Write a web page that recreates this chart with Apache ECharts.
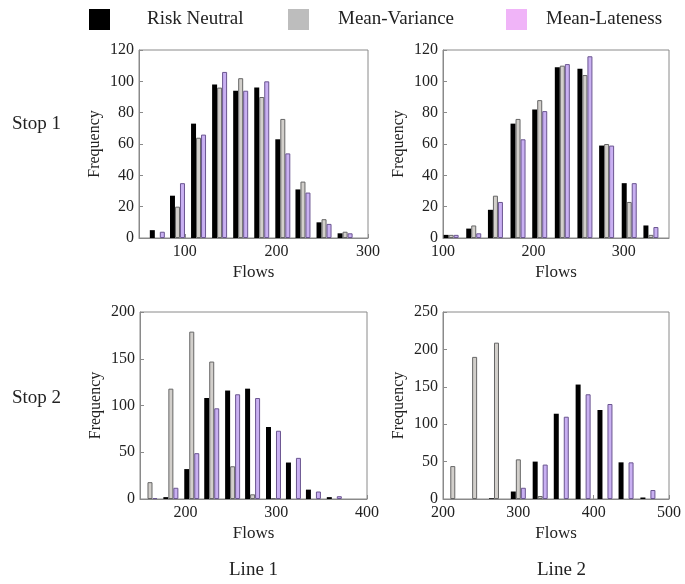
<!DOCTYPE html>
<html><head><meta charset="utf-8">
<script src="https://cdn.jsdelivr.net/npm/echarts@6/dist/echarts.min.js"></script>
<style>html,body{margin:0;padding:0;background:#fff}#c{width:685px;height:584px}</style>
</head><body><div id="c"></div>
<script>
const seriesNames = ['Risk Neutral', 'Mean-Variance', 'Mean-Lateness'];

// Bin centers (Flows) per panel
const bins1 = [70, 92, 115, 138, 161, 184, 207, 229, 252, 275];   // Stop 1, Line 1
const bins2 = [109, 134, 158, 183, 207, 232, 257, 281, 306, 330]; // Stop 1, Line 2
const bins3 = [161, 184, 207, 229, 252, 274, 297, 319, 341, 364]; // Stop 2, Line 1
const bins4 = [213, 242, 271, 300, 329, 357, 386, 415, 443, 472]; // Stop 2, Line 2

// Frequencies
const p1RiskNeutral  = [5, 27, 73, 98, 94, 96, 63, 31, 10, 3];
const p1MeanVariance = [0, 20, 64, 96, 102, 90, 76, 36, 12, 4];
const p1MeanLateness = [4, 35, 66, 106, 94, 100, 54, 29, 9, 3];

const p2RiskNeutral  = [2, 6, 18, 73, 82, 109, 108, 59, 35, 8];
const p2MeanVariance = [2, 8, 27, 76, 88, 110, 104, 60, 23, 2];
const p2MeanLateness = [2, 3, 23, 63, 81, 111, 116, 59, 35, 7];

const p3RiskNeutral  = [0, 2, 32, 108, 116, 118, 77, 39, 10, 2];
const p3MeanVariance = [18, 118, 179, 147, 35, 5, 1, 0, 0, 0];
const p3MeanLateness = [1, 12, 49, 97, 112, 108, 73, 44, 8, 3];

const p4RiskNeutral  = [0, 0, 1, 10, 50, 114, 153, 119, 49, 2];
const p4MeanVariance = [44, 190, 209, 53, 4, 0, 0, 0, 0, 0];
const p4MeanLateness = [0, 0, 0, 15, 46, 110, 140, 127, 49, 12];

// Axis ranges & tick labels
const xRange1 = [50, 300],  xTicks1 = [100, 200, 300];
const xRange2 = [100, 350], xTicks2 = [100, 200, 300];
const xRange3 = [150, 400], xTicks3 = [200, 300, 400];
const xRange4 = [200, 500], xTicks4 = [200, 300, 400, 500];
const yRange1 = [0, 120], yStep1 = 20;
const yRange2 = [0, 120], yStep2 = 20;
const yRange3 = [0, 200], yStep3 = 50;
const yRange4 = [0, 250], yStep4 = 50;

const rowLabels = ['Stop 1', 'Stop 2'];
const colLabels = ['Line 1', 'Line 2'];
const xName = 'Flows', yName = 'Frequency';

const panels = [
  {bins: bins1, vals: [p1RiskNeutral, p1MeanVariance, p1MeanLateness], xr: xRange1, xt: xTicks1, yr: yRange1, ys: yStep1},
  {bins: bins2, vals: [p2RiskNeutral, p2MeanVariance, p2MeanLateness], xr: xRange2, xt: xTicks2, yr: yRange2, ys: yStep2},
  {bins: bins3, vals: [p3RiskNeutral, p3MeanVariance, p3MeanLateness], xr: xRange3, xt: xTicks3, yr: yRange3, ys: yStep3},
  {bins: bins4, vals: [p4RiskNeutral, p4MeanVariance, p4MeanLateness], xr: xRange4, xt: xTicks4, yr: yRange4, ys: yStep4}
];

const FONT = 'Liberation Serif';
const grids = [
  {left: 139, top: 50, width: 229, height: 188},
  {left: 443, top: 50, width: 226, height: 188},
  {left: 140, top: 312, width: 227, height: 187},
  {left: 443, top: 312, width: 226, height: 187}
];
const barStyles = [
  {color: '#000000', borderColor: '#000000', borderWidth: 0},
  {color: '#d2cfcb', borderColor: '#666666', borderWidth: 1},
  {color: '#c9b0f2', borderColor: '#6a5590', borderWidth: 1}
];
const axisCol = '#8a8a8a';

const option = {
  animation: false,
  backgroundColor: '#fff',
  grid: grids.map(g => Object.assign({show: true, borderColor: axisCol, borderWidth: 1, backgroundColor: 'transparent'}, g)),
  xAxis: panels.map((p, i) => ({
    type: 'value', gridIndex: i, min: p.xr[0], max: p.xr[1],
    name: xName, nameLocation: 'middle', nameGap: 26,
    nameTextStyle: {fontFamily: FONT, fontSize: 17, color: '#222'},
    axisLine: {show: true, lineStyle: {color: axisCol}},
    axisTick: {show: true, inside: true, length: 4, customValues: p.xt, lineStyle: {color: axisCol}},
    axisLabel: {customValues: p.xt, fontFamily: FONT, fontSize: 16, color: '#222', margin: 6},
    splitLine: {show: false}
  })),
  yAxis: panels.map((p, i) => ({
    type: 'value', gridIndex: i, min: p.yr[0], max: p.yr[1], interval: p.ys,
    name: yName, nameLocation: 'middle', nameGap: 36,
    nameTextStyle: {fontFamily: FONT, fontSize: 16, color: '#222'},
    axisLine: {show: true, lineStyle: {color: axisCol}},
    axisTick: {show: true, inside: true, length: 4, lineStyle: {color: axisCol}},
    axisLabel: {fontFamily: FONT, fontSize: 16, color: '#222', margin: 5},
    splitLine: {show: false}
  })),
  legend: [
    {left: 89, top: 9, padding: 0, itemWidth: 21, itemHeight: 21, selectedMode: false, icon: 'rect',
     data: [{name: seriesNames[0], itemStyle: {color: '#000000', borderWidth: 0}}],
     textStyle: {fontFamily: FONT, fontSize: 19, color: '#222', padding: [0, 0, 0, 32]}},
    {left: 288, top: 9, padding: 0, itemWidth: 21, itemHeight: 21, selectedMode: false, icon: 'rect',
     data: [{name: seriesNames[1], itemStyle: {color: '#bdbdbd', borderWidth: 0}}],
     textStyle: {fontFamily: FONT, fontSize: 19, color: '#222', padding: [0, 0, 0, 24]}},
    {left: 506, top: 9, padding: 0, itemWidth: 21, itemHeight: 21, selectedMode: false, icon: 'rect',
     data: [{name: seriesNames[2], itemStyle: {color: '#f0b4f8', borderWidth: 0}}],
     textStyle: {fontFamily: FONT, fontSize: 19, color: '#222', padding: [0, 0, 0, 14]}}
  ],
  graphic: [
    {type: 'text', left: 12, top: 115, style: {text: rowLabels[0], font: '19px "Liberation Serif"', fill: '#222'}},
    {type: 'text', left: 12, top: 389, style: {text: rowLabels[1], font: '19px "Liberation Serif"', fill: '#222'}},
    {type: 'text', left: 229, top: 561, style: {text: colLabels[0], font: '19px "Liberation Serif"', fill: '#222'}},
    {type: 'text', left: 537, top: 561, style: {text: colLabels[1], font: '19px "Liberation Serif"', fill: '#222'}}
  ],
  series: []
};

panels.forEach((p, i) => {
  seriesNames.forEach((nm, k) => {
    option.series.push({
      type: 'bar', name: nm, xAxisIndex: i, yAxisIndex: i,
      barWidth: 5, barGap: '0%',
      itemStyle: barStyles[k],
      // empty bins are not drawn
      data: p.bins.map((x, j) => [x, p.vals[k][j] === 0 ? '-' : p.vals[k][j]])
    });
  });
});

const chart = echarts.init(document.getElementById('c'), null, {renderer: 'canvas'});
chart.setOption(option);
</script></body></html>
